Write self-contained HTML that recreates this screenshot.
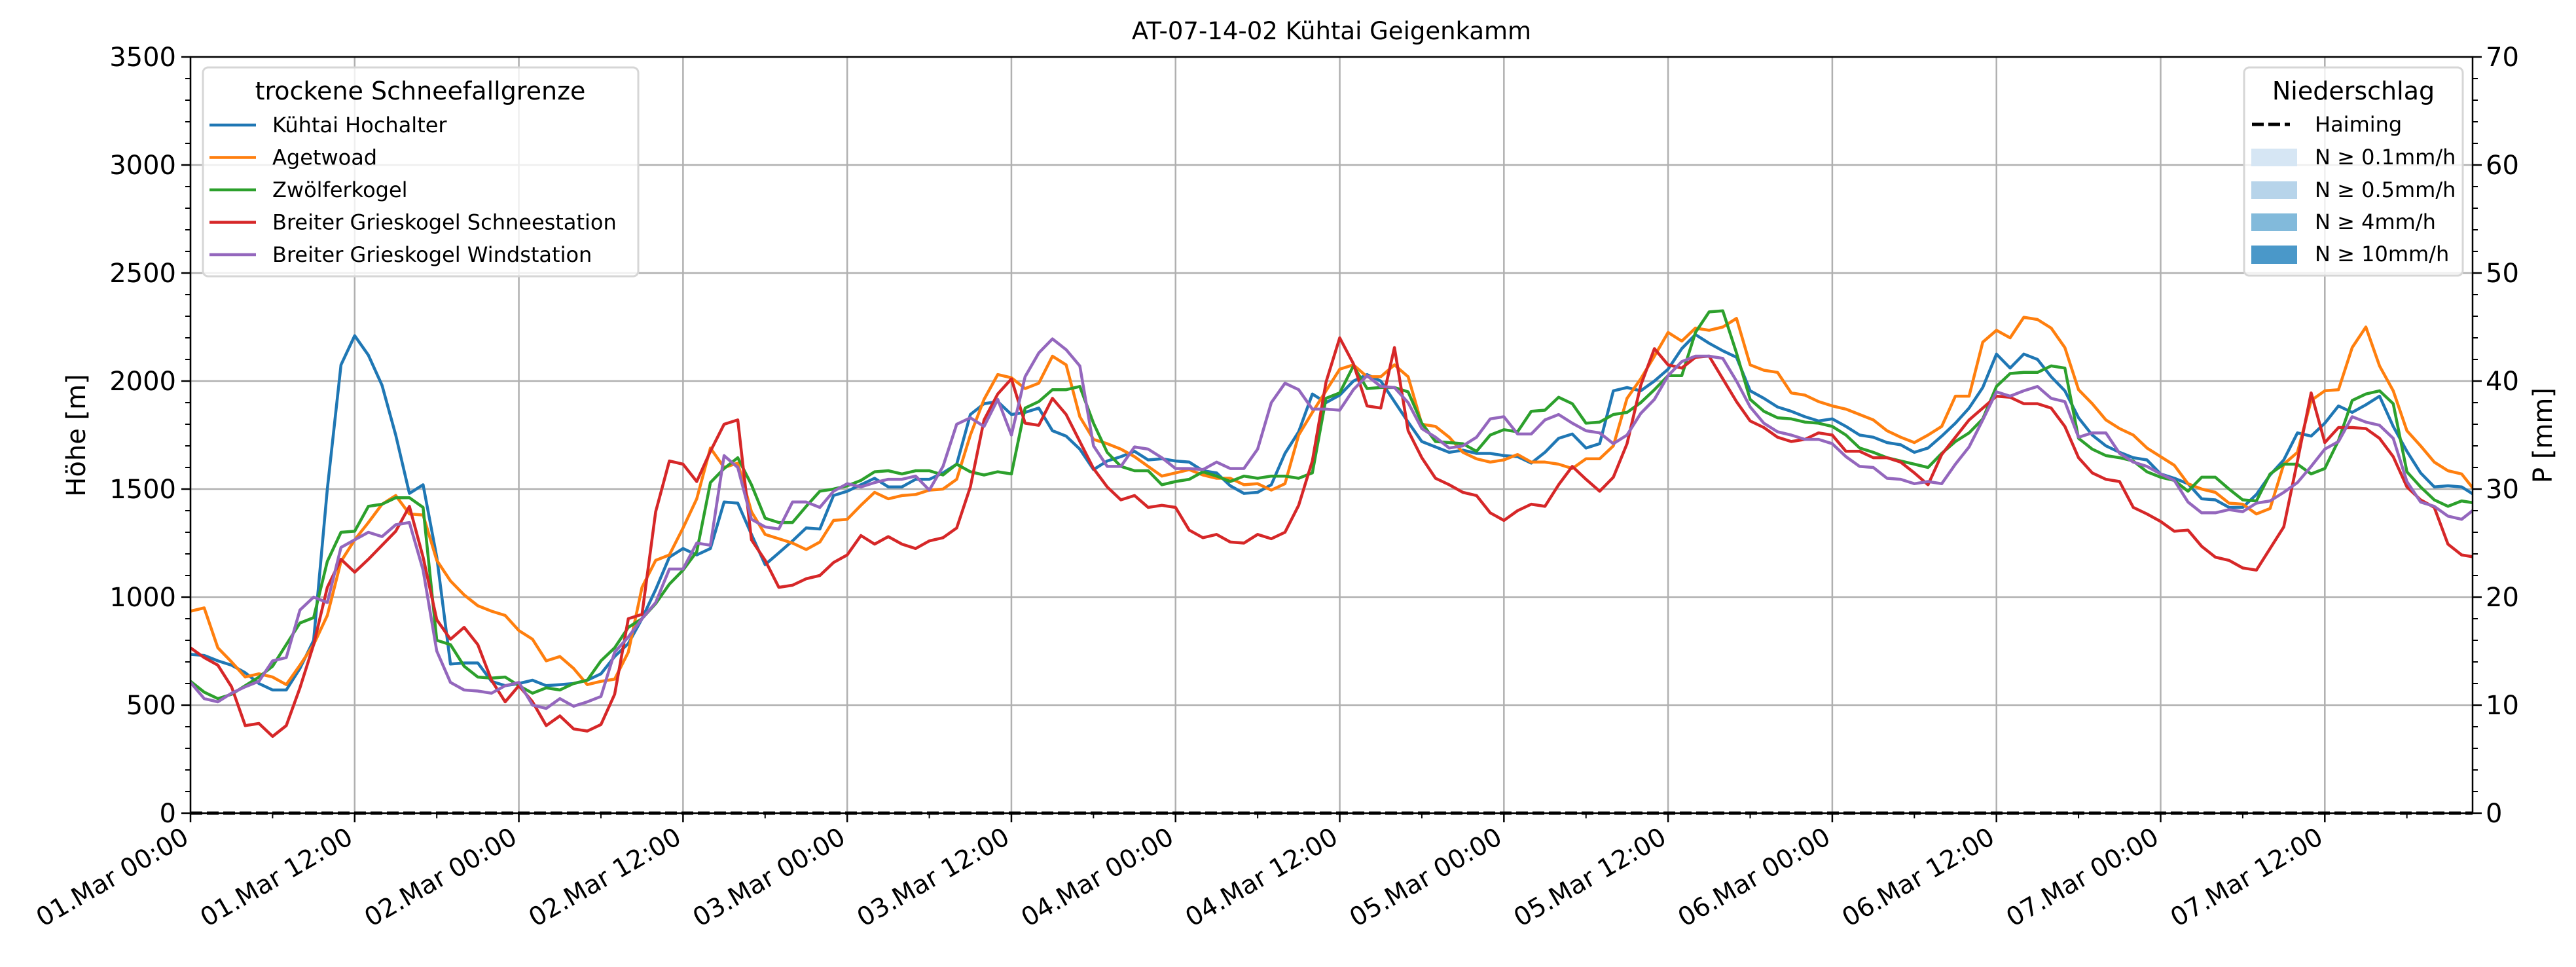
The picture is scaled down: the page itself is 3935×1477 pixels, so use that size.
<!DOCTYPE html>
<html><head><meta charset="utf-8"><style>
html,body{margin:0;padding:0;background:#fff;}
svg{display:block;font-family:"DejaVu Sans","Liberation Sans",sans-serif;}
</style></head><body>
<svg id="chart" width="3935" height="1477" viewBox="0 0 3935 1477" xmlns="http://www.w3.org/2000/svg">
<rect width="3935" height="1477" fill="#fff"/>
<text x="2034" y="60" font-size="37" text-anchor="middle">AT-07-14-02 Kühtai Geigenkamm</text>
<g id="grid"></g>
<g id="series"></g>
<g id="axes"></g>
<text transform="translate(130,665) rotate(-90)" font-size="40" text-anchor="middle">Höhe [m]</text>
<text transform="translate(3898,665) rotate(-90)" font-size="40" text-anchor="middle">P [mm]</text>
<g id="legend1">
  <rect x="310" y="103" width="665" height="319" rx="8" fill="#fff" fill-opacity="0.8" stroke="#d6d6d6" stroke-width="3"/>
  <text x="642" y="152" font-size="38" text-anchor="middle">trockene Schneefallgrenze</text>
</g>
<g id="legend2">
  <rect x="3428" y="103" width="334" height="318" rx="8" fill="#fff" fill-opacity="0.8" stroke="#d6d6d6" stroke-width="3"/>
  <text x="3595" y="152" font-size="38" text-anchor="middle">Niederschlag</text>
  <line x1="3440" y1="190" x2="3498" y2="190" stroke="#000" stroke-width="5" stroke-dasharray="18,7"/>
  <text x="3536" y="201" font-size="32">Haiming</text>
  <rect x="3439" y="227" width="70" height="27" fill="#d6e6f4"/>
  <text x="3536" y="251" font-size="32">N ≥ 0.1mm/h</text>
  <rect x="3439" y="277" width="70" height="27" fill="#b7d4ea"/>
  <text x="3536" y="301" font-size="32">N ≥ 0.5mm/h</text>
  <rect x="3439" y="326" width="70" height="27" fill="#82badb"/>
  <text x="3536" y="350" font-size="32">N ≥ 4mm/h</text>
  <rect x="3439" y="375" width="70" height="28" fill="#4a98c9"/>
  <text x="3536" y="399" font-size="32">N ≥ 10mm/h</text>
</g>
</svg>
<script>
const seriesNames = ["Kühtai Hochalter","Agetwoad","Zwölferkogel","Breiter Grieskogel Schneestation","Breiter Grieskogel Windstation"];
const seriesColors = ["#1f77b4","#ff7f0e","#2ca02c","#d62728","#9467bd"];
const kuehtai = [735,730,705,685,650,600,570,570,670,800,1500,2075,2210,2120,1980,1750,1480,1520,1185,690,695,695,610,590,600,615,590,595,600,615,645,725,785,900,1035,1185,1225,1195,1225,1440,1435,1290,1150,1205,1260,1320,1315,1470,1490,1520,1550,1510,1510,1545,1545,1575,1615,1845,1895,1905,1845,1855,1875,1770,1745,1685,1590,1630,1650,1675,1635,1640,1630,1625,1585,1575,1515,1480,1485,1520,1665,1765,1940,1900,1935,2000,2030,2000,1905,1810,1720,1695,1670,1680,1665,1665,1655,1650,1620,1670,1735,1755,1690,1710,1955,1970,1955,2000,2055,2150,2215,2175,2140,2110,1955,1920,1880,1860,1835,1815,1825,1790,1750,1740,1715,1705,1670,1690,1745,1805,1875,1970,2125,2060,2125,2100,2020,1955,1830,1750,1700,1670,1645,1635,1570,1550,1525,1455,1450,1415,1415,1475,1565,1635,1760,1745,1805,1885,1855,1890,1930,1790,1675,1575,1510,1515,1510,1470];
const agetwoad = [935,950,765,700,630,645,630,595,685,780,915,1165,1265,1345,1430,1470,1385,1380,1170,1075,1010,960,935,915,845,805,705,725,670,595,610,620,745,1045,1170,1195,1320,1455,1690,1600,1620,1395,1290,1270,1250,1220,1255,1355,1360,1425,1485,1455,1470,1475,1495,1500,1545,1750,1915,2030,2015,1965,1990,2115,2075,1835,1730,1710,1685,1650,1605,1560,1575,1590,1565,1550,1550,1520,1525,1495,1525,1750,1855,1955,2055,2075,2020,2020,2075,2020,1800,1790,1740,1670,1640,1625,1635,1660,1625,1625,1615,1595,1640,1640,1700,1920,2010,2115,2225,2185,2245,2235,2250,2290,2075,2050,2040,1945,1935,1905,1885,1870,1845,1820,1770,1740,1715,1750,1790,1930,1930,2180,2235,2200,2295,2285,2245,2155,1960,1895,1820,1780,1750,1690,1650,1610,1525,1500,1485,1435,1430,1385,1410,1615,1670,1910,1955,1960,2155,2250,2070,1955,1770,1700,1625,1585,1570,1490];
const zwoelferkogel = [610,560,530,550,590,630,680,780,880,905,1165,1300,1305,1420,1430,1460,1460,1415,800,780,680,630,625,630,590,555,580,570,600,615,705,765,860,900,970,1060,1125,1210,1530,1595,1645,1520,1365,1345,1345,1420,1490,1500,1515,1540,1580,1585,1570,1585,1585,1565,1615,1580,1565,1580,1570,1875,1905,1960,1960,1975,1805,1670,1605,1585,1585,1520,1535,1545,1580,1560,1535,1560,1550,1560,1560,1550,1575,1920,1945,2070,1965,1970,1970,1950,1805,1720,1715,1710,1675,1750,1775,1765,1860,1865,1925,1895,1805,1810,1845,1855,1900,1960,2025,2025,2225,2320,2325,2130,1915,1860,1830,1825,1810,1805,1790,1750,1690,1670,1645,1630,1615,1600,1665,1720,1760,1825,1975,2035,2040,2040,2070,2060,1735,1685,1655,1645,1630,1580,1555,1540,1490,1555,1555,1500,1450,1445,1570,1615,1615,1570,1595,1725,1910,1940,1955,1895,1580,1510,1450,1420,1445,1435];
const schneestation = [765,720,685,585,405,415,355,405,580,780,1045,1175,1115,1175,1240,1305,1420,1185,895,805,860,780,615,515,590,515,405,450,390,380,410,550,900,920,1395,1630,1615,1535,1675,1800,1820,1265,1170,1045,1055,1085,1100,1160,1195,1285,1245,1280,1245,1225,1260,1275,1320,1510,1820,1940,2010,1805,1795,1920,1845,1720,1595,1510,1450,1470,1415,1425,1415,1310,1275,1290,1255,1250,1290,1270,1300,1425,1630,1995,2200,2080,1885,1875,2155,1770,1645,1550,1520,1485,1470,1390,1355,1400,1430,1420,1520,1605,1545,1490,1555,1710,1980,2150,2075,2060,2110,2115,2010,1905,1815,1785,1740,1720,1730,1760,1750,1675,1675,1645,1645,1625,1575,1520,1660,1740,1820,1875,1930,1925,1895,1895,1875,1790,1645,1575,1545,1535,1415,1385,1350,1305,1310,1235,1185,1170,1135,1125,1225,1325,1630,1945,1715,1785,1785,1780,1735,1650,1510,1450,1415,1245,1195,1185];
const windstation = [605,530,515,555,585,610,705,720,940,1000,975,1230,1265,1300,1280,1335,1345,1125,750,605,570,565,555,590,605,500,485,530,495,515,540,745,815,900,975,1130,1130,1250,1240,1655,1600,1360,1325,1315,1440,1440,1415,1490,1525,1510,1530,1545,1545,1560,1495,1605,1800,1830,1790,1915,1750,2020,2130,2195,2145,2070,1700,1605,1605,1695,1685,1645,1595,1595,1590,1625,1595,1595,1685,1900,1990,1960,1870,1870,1865,1960,2025,1975,1970,1900,1780,1740,1690,1700,1740,1825,1835,1755,1755,1820,1845,1805,1770,1760,1710,1750,1850,1915,2025,2090,2115,2115,2105,2000,1880,1805,1765,1750,1730,1730,1710,1650,1605,1600,1550,1545,1525,1535,1525,1615,1695,1820,1950,1930,1955,1975,1920,1905,1740,1760,1760,1665,1625,1605,1570,1540,1440,1390,1390,1405,1395,1435,1445,1485,1530,1605,1685,1720,1835,1810,1795,1735,1535,1440,1420,1375,1360,1410];
const haiming = new Array(168).fill(0);
const xTickLabels = ["01.Mar 00:00","01.Mar 12:00","02.Mar 00:00","02.Mar 12:00","03.Mar 00:00","03.Mar 12:00","04.Mar 00:00","04.Mar 12:00","05.Mar 00:00","05.Mar 12:00","06.Mar 00:00","06.Mar 12:00","07.Mar 00:00","07.Mar 12:00"];
const yTicks = [0,500,1000,1500,2000,2500,3000,3500];
const y2Ticks = [0,10,20,30,40,50,60,70];

const NS="http://www.w3.org/2000/svg";
const L=291,R=3777,T=87,B=1242,XMAX=166.8,YMAX=3500,Y2MAX=70;
const xs=h=>L+h*(R-L)/XMAX;
const ys=v=>B-v*(B-T)/YMAX;
const y2s=v=>B-v*(B-T)/Y2MAX;
function mk(tag,attrs,parent){const e=document.createElementNS(NS,tag);for(const k in attrs)e.setAttribute(k,attrs[k]);parent.appendChild(e);return e;}
const grid=document.getElementById('grid'),axes=document.getElementById('axes'),ser=document.getElementById('series');
xTickLabels.forEach((lab,i)=>{const x=xs(i*12);
  const g=mk('line',{x1:x,x2:x,y1:T,y2:B,stroke:'#b0b0b0','stroke-width':2.5},grid);
  
  
  mk('line',{x1:x,x2:x,y1:B,y2:B+14,stroke:'#000','stroke-width':2.5},axes);
  const t=mk('text',{transform:`translate(${x-6},${B+34}) rotate(-30)`,'font-size':39,'text-anchor':'end',dy:'0.3em'},axes);
  t.textContent=lab;
  
  
});
for(let h=6;h<XMAX;h+=12){mk('line',{x1:xs(h),x2:xs(h),y1:B,y2:B+8,stroke:'#000','stroke-width':2},axes);}
yTicks.forEach(v=>{const y=ys(v);
  const g=mk('line',{x1:L,x2:R,y1:y,y2:y,stroke:'#b0b0b0','stroke-width':2.5},grid);
  
  
  mk('line',{x1:L-14,x2:L,y1:y,y2:y,stroke:'#000','stroke-width':2.5},axes);
  const t=mk('text',{x:L-22,y:y+14,'font-size':40,'text-anchor':'end'},axes);t.textContent=v;
  
  
});
for(let v=100;v<YMAX;v+=100){if(v%500)mk('line',{x1:L-8,x2:L,y1:ys(v),y2:ys(v),stroke:'#000','stroke-width':2},axes);}
y2Ticks.forEach(v=>{const y=y2s(v);
  mk('line',{x1:R,x2:R+14,y1:y,y2:y,stroke:'#000','stroke-width':2.5},axes);
  const t=mk('text',{x:R+20,y:y+14,'font-size':40,'text-anchor':'start'},axes);t.textContent=v;
  
  
});
for(let v=2;v<Y2MAX;v+=2){if(v%10)mk('line',{x1:R,x2:R+8,y1:y2s(v),y2:y2s(v),stroke:'#000','stroke-width':2},axes);}
const frame=mk('rect',{x:L,y:T,width:R-L,height:B-T,fill:'none',stroke:'#000','stroke-width':2.5},axes);


const defs=mk('defs',{},document.getElementById('chart'));
const cp=mk('clipPath',{id:'pc'},defs);mk('rect',{x:L,y:T-5,width:R-L,height:B-T+10},cp);
ser.setAttribute('clip-path','url(#pc)');
const allSeries=[kuehtai,agetwoad,zwoelferkogel,schneestation,windstation];
allSeries.forEach((arr,i)=>{
  const d=arr.map((v,h)=>(h?'L':'M')+xs(h).toFixed(1)+','+ys(v).toFixed(1)).join('');
  const p=mk('path',{d:d,fill:'none',stroke:seriesColors[i],'stroke-width':4.5,'stroke-linejoin':'round'},ser);
  
  
});
const hd=haiming.map((v,h)=>(h?'L':'M')+xs(h).toFixed(1)+','+y2s(v).toFixed(1)).join('');
const hp=mk('path',{d:hd,fill:'none',stroke:'#000','stroke-width':5,'stroke-dasharray':'18,7'},ser);


const lg=document.getElementById('legend1');
seriesNames.forEach((n,i)=>{const y=191+i*49.5;
  const l=mk('line',{x1:320,x2:391,y1:y,y2:y,stroke:seriesColors[i],'stroke-width':4.5},lg);
  
  
  const t=mk('text',{x:416,y:y+11,'font-size':32},lg);t.textContent=n;
  
  
});
</script>
</body></html>
